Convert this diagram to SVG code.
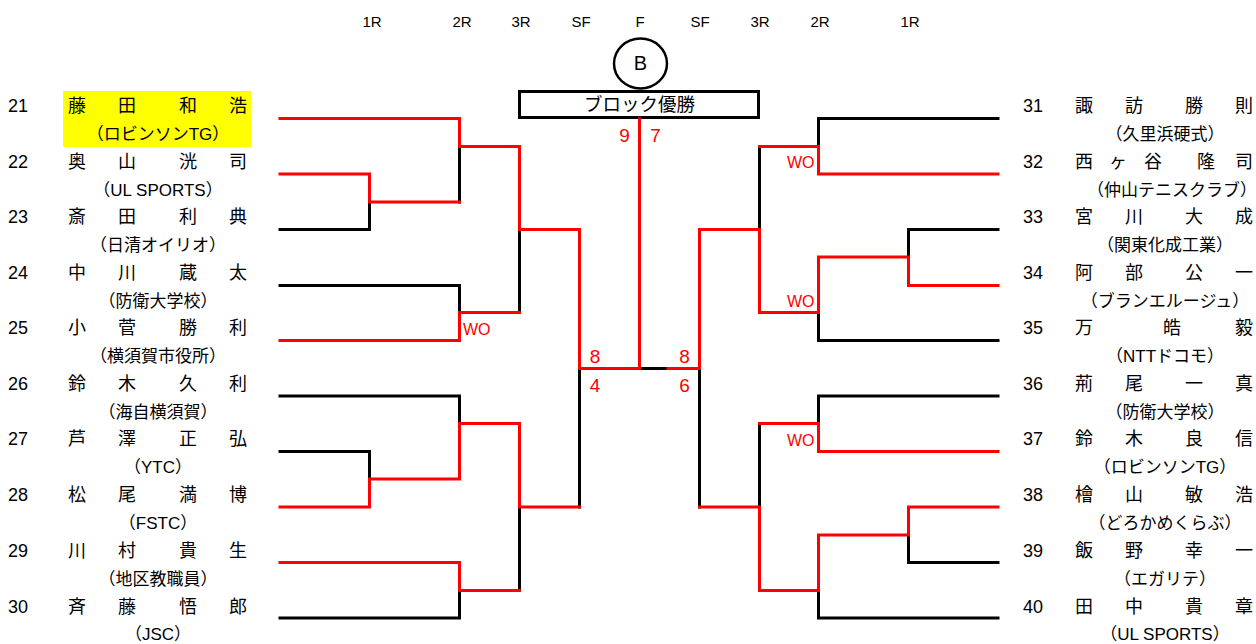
<svg xmlns="http://www.w3.org/2000/svg" width="1256" height="644" viewBox="0 0 1256 644">
<style>
text{font-family:"Liberation Sans","Noto Sans CJK JP",sans-serif;fill:#000}
.hd{font-size:15px;text-anchor:middle}
.no{font-size:18px}
.nm{font-size:18px;text-anchor:middle}
.cl{font-size:17px;text-anchor:middle}
.sc{font-size:19px;fill:#f00;text-anchor:middle}
.wo{font-size:16px;fill:#f00}
.k{fill:none;stroke:#000;stroke-width:3;stroke-linecap:square}
.r{fill:none;stroke:#f00;stroke-width:3;stroke-linecap:square}
</style>
<rect width="1256" height="644" fill="#fff"/>
<g id="headers">
<text class="hd" x="372" y="27">1R</text>
<text class="hd" x="462" y="27">2R</text>
<text class="hd" x="521" y="27">3R</text>
<text class="hd" x="581" y="27">SF</text>
<text class="hd" x="640" y="27">F</text>
<text class="hd" x="700" y="27">SF</text>
<text class="hd" x="760" y="27">3R</text>
<text class="hd" x="820" y="27">2R</text>
<text class="hd" x="910" y="27">1R</text>
</g>
<g id="block-badge">
<ellipse cx="640.5" cy="63.5" rx="26.5" ry="25" fill="none" stroke="#000" stroke-width="2.5"/>
<text x="640.5" y="70" font-size="20" text-anchor="middle">B</text>
</g>
<g id="champion">
<rect x="519.5" y="91.5" width="239" height="26" fill="#fff" stroke="#000" stroke-width="3"/>
<text x="639.5" y="111" font-size="18.5" text-anchor="middle">ブロック優勝</text>
</g>
<g id="connectors">
<path class="k" d="M280 229.5 H369.5 V202"/>
<path class="k" d="M459.5 146.5 V202"/>
<path class="k" d="M519.5 229.5 V312.5"/>
<path class="k" d="M280 285.5 H459.5 V312.5"/>
<path class="k" d="M579.5 368.5 V507"/>
<path class="k" d="M280 396 H459.5 V423.5"/>
<path class="k" d="M280 451.5 H369.5 V479"/>
<path class="k" d="M519.5 507 V590.5"/>
<path class="k" d="M280 618 H459.5 V590.5"/>
<path class="k" d="M639.5 368.5 H668"/>
<path class="k" d="M998 118.5 H818.5 V146.5"/>
<path class="k" d="M759.5 146.5 V229.5"/>
<path class="k" d="M998 229.5 H908.5 V257"/>
<path class="k" d="M998 340.5 H818.5 V312.5"/>
<path class="k" d="M699.5 368.5 V507"/>
<path class="k" d="M998 396 H818.5 V423.5"/>
<path class="k" d="M759.5 423.5 V507"/>
<path class="k" d="M998 562.5 H908.5 V535"/>
<path class="k" d="M998 618 H818.5 V590.5"/>
<path class="r" d="M280 118.5 H459.5 V146.5 H519.5 V229.5 H579.5 V368.5 H639.5 V119"/>
<path class="r" d="M280 174 H369.5 V202 H459.5"/>
<path class="r" d="M280 340.5 H459.5 V312.5 H519.5"/>
<path class="r" d="M280 507 H369.5 V479 H459.5 V423.5 H519.5 V507 H579.5"/>
<path class="r" d="M280 562.5 H459.5 V590.5 H519.5"/>
<path class="r" d="M998 174 H818.5 V146.5 H759.5"/>
<path class="r" d="M998 285.5 H908.5 V257 H818.5 V312.5 H759.5 V229.5 H699.5 V368.5 H668"/>
<path class="r" d="M998 451.5 H818.5 V423.5 H759.5"/>
<path class="r" d="M998 507 H908.5 V535 H818.5 V590.5 H759.5 V507 H699.5"/>
</g>
<g id="scores">
<text class="sc" x="624.5" y="142">9</text>
<text class="sc" x="655.5" y="142">7</text>
<text class="sc" x="595" y="363">8</text>
<text class="sc" x="595" y="392">4</text>
<text class="sc" x="684.5" y="363">8</text>
<text class="sc" x="684.5" y="392">6</text>
<text class="wo" x="463" y="335">WO</text>
<text class="wo" x="787" y="168">WO</text>
<text class="wo" x="787" y="307">WO</text>
<text class="wo" x="787" y="446">WO</text>
</g>
<g id="p21"><rect x="63" y="91" width="188" height="56" fill="#ff0"/><text class="no" x="8" y="112">21</text><text class="nm" x="77 127 188 238" y="112">藤田和浩</text><text class="cl" x="158" y="140">（ロビンソンTG）</text></g>
<g id="p22"><text class="no" x="8" y="168">22</text><text class="nm" x="77 127 188 238" y="168">奥山洸司</text><text class="cl" x="158" y="196">（UL SPORTS）</text></g>
<g id="p23"><text class="no" x="8" y="223">23</text><text class="nm" x="77 127 188 238" y="223">斎田利典</text><text class="cl" x="158" y="251">（日清オイリオ）</text></g>
<g id="p24"><text class="no" x="8" y="279">24</text><text class="nm" x="77 127 188 238" y="279">中川蔵太</text><text class="cl" x="158" y="307">（防衛大学校）</text></g>
<g id="p25"><text class="no" x="8" y="334">25</text><text class="nm" x="77 127 188 238" y="334">小菅勝利</text><text class="cl" x="158" y="362">（横須賀市役所）</text></g>
<g id="p26"><text class="no" x="8" y="390">26</text><text class="nm" x="77 127 188 238" y="390">鈴木久利</text><text class="cl" x="158" y="418">（海自横須賀）</text></g>
<g id="p27"><text class="no" x="8" y="445">27</text><text class="nm" x="77 127 188 238" y="445">芦澤正弘</text><text class="cl" x="158" y="473">（YTC）</text></g>
<g id="p28"><text class="no" x="8" y="501">28</text><text class="nm" x="77 127 188 238" y="501">松尾満博</text><text class="cl" x="158" y="529">（FSTC）</text></g>
<g id="p29"><text class="no" x="8" y="557">29</text><text class="nm" x="77 127 188 238" y="557">川村貴生</text><text class="cl" x="158" y="585">（地区教職員）</text></g>
<g id="p30"><text class="no" x="8" y="613">30</text><text class="nm" x="77 127 188 238" y="613">斉藤悟郎</text><text class="cl" x="158" y="640">（JSC）</text></g>
<g id="p31"><text class="no" x="1023" y="112">31</text><text class="nm" x="1084 1134 1194 1244" y="112">諏訪勝則</text><text class="cl" x="1165" y="140">（久里浜硬式）</text></g>
<g id="p32"><text class="no" x="1023" y="168">32</text><text class="nm" x="1084 1118 1153 1206 1244" y="168">西ヶ谷隆司</text><text class="cl" x="1172" y="196" font-size="16">（仲山テニスクラブ）</text></g>
<g id="p33"><text class="no" x="1023" y="223">33</text><text class="nm" x="1084 1134 1194 1244" y="223">宮川大成</text><text class="cl" x="1165" y="251">（関東化成工業）</text></g>
<g id="p34"><text class="no" x="1023" y="279">34</text><text class="nm" x="1084 1134 1194 1244" y="279">阿部公一</text><text class="cl" x="1165" y="307">（ブランエルージュ）</text></g>
<g id="p35"><text class="no" x="1023" y="334">35</text><text class="nm" x="1084 1172 1244" y="334">万皓毅</text><text class="cl" x="1165" y="362">（NTTドコモ）</text></g>
<g id="p36"><text class="no" x="1023" y="390">36</text><text class="nm" x="1084 1134 1194 1244" y="390">荊尾一真</text><text class="cl" x="1165" y="418">（防衛大学校）</text></g>
<g id="p37"><text class="no" x="1023" y="445">37</text><text class="nm" x="1084 1134 1194 1244" y="445">鈴木良信</text><text class="cl" x="1165" y="473">（ロビンソンTG）</text></g>
<g id="p38"><text class="no" x="1023" y="501">38</text><text class="nm" x="1084 1134 1194 1244" y="501">檜山敏浩</text><text class="cl" x="1165" y="529">（どろかめくらぶ）</text></g>
<g id="p39"><text class="no" x="1023" y="557">39</text><text class="nm" x="1084 1134 1194 1244" y="557">飯野幸一</text><text class="cl" x="1165" y="585">（エガリテ）</text></g>
<g id="p40"><text class="no" x="1023" y="613">40</text><text class="nm" x="1084 1134 1194 1244" y="613">田中貴章</text><text class="cl" x="1165" y="640">（UL SPORTS）</text></g>
</svg>
